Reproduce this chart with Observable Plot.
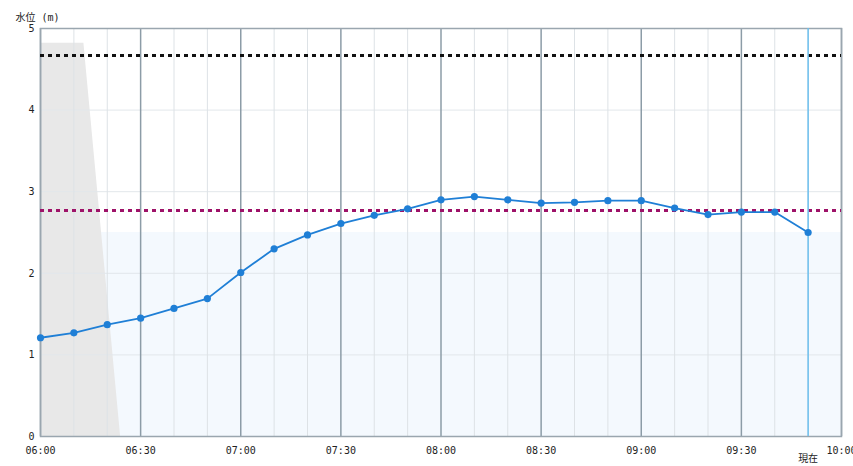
<!DOCTYPE html>
<html>
<head>
<meta charset="utf-8">
<script src="https://cdn.jsdelivr.net/npm/d3@7"></script>
<script src="https://cdn.jsdelivr.net/npm/@observablehq/plot@0.6"></script>
<style>
  html, body { margin: 0; padding: 0; overflow: hidden; background: #fff; }
  svg { font-family: "DejaVu Sans Mono", "Noto Sans CJK JP", monospace; }
</style>
</head>
<body>
<div id="chart"></div>
<script>
// ---- data ----
const times = ["06:00","06:10","06:20","06:30","06:40","06:50","07:00","07:10","07:20","07:30","07:40","07:50",
               "08:00","08:10","08:20","08:30","08:40","08:50","09:00","09:10","09:20","09:30","09:40","09:50"];
const levels = [1.21,1.27,1.37,1.45,1.57,1.69,2.01,2.30,2.47,2.61,2.71,2.79,
                2.90,2.94,2.90,2.86,2.87,2.89,2.89,2.80,2.72,2.75,2.75,2.50];
const xTickLabels = ["06:00","06:30","07:00","07:30","08:00","08:30","09:00","09:30","10:00"];
const minorTimes = ["06:10","06:20","06:40","06:50","07:10","07:20","07:40","07:50","08:10","08:20","08:40","08:50","09:10","09:20","09:40","09:50"];
const yTicks = [0,1,2,3,4,5];
const domainTimes = ["06:00","10:00"];
const dangerLevel = 4.67;     // black dotted
const warningLevel = 2.77;    // maroon dotted
const normalBandTop = 2.50;   // pale blue band
const maskTimes = ["06:00","06:13","06:24"];
const maskLevels = [4.82, 4.82, 0];
const currentTime = "09:50";
const yLabel = "水位 (m)";
const currentLabel = "現在";

// ---- helpers ----
const toDate = s => { const [h, m] = s.split(":").map(Number); return new Date(Date.UTC(2024, 0, 1, h, m)); };
const fmt = d3.utcFormat("%H:%M");

const series = times.map((t, i) => ({t: toDate(t), v: levels[i]}));
const mask = maskTimes.map((t, i) => ({t: toDate(t), v: maskLevels[i]}));
const xDomain = domainTimes.map(toDate);
const majorTicks = xTickLabels.map(toDate);
const minor = minorTimes.map(toDate);
const cur = toDate(currentTime);

const chart = Plot.plot({
  width: 853,
  height: 466,
  marginLeft: 40,
  marginRight: 12,
  marginTop: 28,
  marginBottom: 30,
  style: {fontFamily: "'DejaVu Sans Mono', 'Noto Sans CJK JP', monospace", fontSize: "10px", color: "#222", overflow: "visible"},
  x: {type: "utc", domain: xDomain},
  y: {domain: [0, 5]},
  marks: [
    // pale blue band
    Plot.rect([{}], {x1: xDomain[0], x2: xDomain[1], y1: 0, y2: normalBandTop, fill: "#f4f9fe"}),
    // gray mask polygon
    Plot.areaY(mask, {x: "t", y1: 0, y2: "v", fill: "#e8e8e8"}),
    // horizontal grid
    Plot.ruleY(yTicks.slice(1, -1), {stroke: "#e2e7eb", strokeWidth: 1}),
    // minor vertical grid
    Plot.ruleX(minor, {stroke: "#dde2e6", strokeWidth: 1}),
    // major vertical grid
    Plot.ruleX(majorTicks, {stroke: "#8c9ca7", strokeWidth: 1.5}),
    // frame
    Plot.frame({stroke: "#9aa6af", strokeWidth: 1.5}),
    // threshold lines
    Plot.ruleY([dangerLevel], {stroke: "#111", strokeWidth: 3, strokeDasharray: "4,4"}),
    Plot.ruleY([warningLevel], {stroke: "#9e1268", strokeWidth: 3, strokeDasharray: "4,4"}),
    // current time
    Plot.ruleX([cur], {stroke: "#6cbfee", strokeWidth: 1.5}),
    // series
    Plot.line(series, {x: "t", y: "v", stroke: "#1f7fd6", strokeWidth: 1.8}),
    Plot.dot(series, {x: "t", y: "v", fill: "#1f7fd6", r: 3.6}),
    // axes
    Plot.axisX({ticks: majorTicks, tickFormat: fmt, tickSize: 0, tickPadding: 10, label: null, fontSize: 10}),
    Plot.axisY({ticks: yTicks, tickFormat: d => String(d), tickSize: 0, tickPadding: 6, label: null, fontSize: 10}),
    // labels
    Plot.text([yLabel], {frameAnchor: "top-left", dx: -25, dy: -15, textAnchor: "start", fontSize: 10, text: d => d}),
    Plot.text([currentLabel], {x: cur, frameAnchor: "bottom", dy: 25, fontSize: 10, text: d => d})
  ]
});
document.getElementById("chart").append(chart);
</script>
</body>
</html>
